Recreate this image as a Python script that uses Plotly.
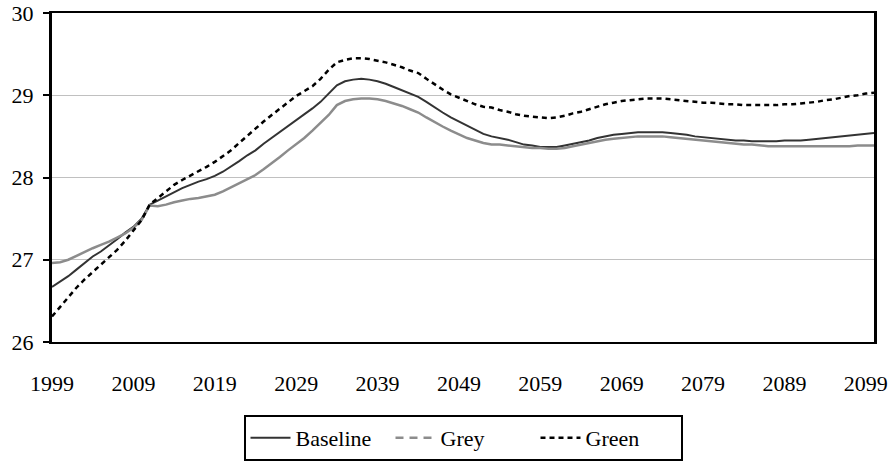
import plotly.graph_objects as go

years = list(range(1999, 2101))

baseline = [
    26.67, 26.73, 26.80, 26.88, 26.96, 27.04, 27.10, 27.17, 27.25, 27.33,  # 1999-2008
    27.40, 27.50, 27.67, 27.72, 27.77, 27.83, 27.87, 27.91, 27.95, 27.98,  # 2009-2018
    28.02, 28.07, 28.13, 28.20, 28.27, 28.33, 28.41, 28.48, 28.56, 28.63,  # 2019-2028
    28.70, 28.77, 28.84, 28.92, 29.02, 29.12, 29.17, 29.19, 29.20, 29.19,  # 2029-2038
    29.17, 29.14, 29.10, 29.06, 29.02, 28.98, 28.92, 28.85, 28.79, 28.73,  # 2039-2048
    28.68, 28.63, 28.58, 28.53, 28.50, 28.48, 28.46, 28.43, 28.40, 28.39,  # 2049-2058
    28.37, 28.37, 28.37, 28.39, 28.41, 28.43, 28.45, 28.48, 28.50, 28.52,  # 2059-2068
    28.53, 28.54, 28.55, 28.55, 28.55, 28.55, 28.54, 28.53, 28.52, 28.50,  # 2069-2078
    28.49, 28.48, 28.47, 28.46, 28.45, 28.45, 28.44, 28.44, 28.44, 28.44,  # 2079-2088
    28.45, 28.45, 28.45, 28.46, 28.47, 28.48, 28.49, 28.50, 28.51, 28.52,  # 2089-2098
    28.53, 28.54,                                                          # 2099-2100
]

grey = [
    26.96, 26.97, 27.00, 27.05, 27.10, 27.14, 27.18, 27.22, 27.27, 27.32,
    27.39, 27.48, 27.66, 27.65, 27.67, 27.70, 27.72, 27.74, 27.75, 27.77,
    27.79, 27.83, 27.88, 27.93, 27.98, 28.03, 28.10, 28.17, 28.25, 28.33,
    28.40, 28.48, 28.57, 28.66, 28.76, 28.88, 28.93, 28.95, 28.96, 28.96,
    28.95, 28.93, 28.90, 28.87, 28.83, 28.79, 28.73, 28.67, 28.62, 28.57,
    28.52, 28.48, 28.45, 28.42, 28.40, 28.40, 28.39, 28.38, 28.37, 28.36,
    28.36, 28.35, 28.35, 28.36, 28.38, 28.40, 28.42, 28.44, 28.46, 28.47,
    28.48, 28.49, 28.50, 28.50, 28.50, 28.50, 28.49, 28.48, 28.47, 28.46,
    28.45, 28.44, 28.43, 28.42, 28.41, 28.40, 28.40, 28.39, 28.38, 28.38,
    28.38, 28.38, 28.38, 28.38, 28.38, 28.38, 28.38, 28.38, 28.38, 28.39,
    28.39, 28.39,
]

green = [
    26.31, 26.43, 26.55, 26.66, 26.76, 26.85, 26.93, 27.02, 27.12, 27.23,
    27.35, 27.48, 27.67, 27.75, 27.83, 27.91, 27.97, 28.02, 28.08, 28.13,
    28.19, 28.26, 28.33, 28.42, 28.51, 28.60, 28.68, 28.76, 28.84, 28.92,
    28.99, 29.05, 29.11, 29.20, 29.31, 29.40, 29.43, 29.45, 29.45, 29.44,
    29.42, 29.40, 29.37, 29.34, 29.30, 29.27, 29.20, 29.13, 29.07, 29.01,
    28.97, 28.93, 28.89, 28.86, 28.85, 28.82, 28.80, 28.77, 28.75, 28.74,
    28.73, 28.72, 28.73, 28.75, 28.78, 28.80, 28.83, 28.86, 28.89, 28.91,
    28.93, 28.94, 28.95, 28.96, 28.96, 28.96, 28.95, 28.94, 28.93, 28.92,
    28.91, 28.91, 28.90, 28.89, 28.89, 28.88, 28.88, 28.88, 28.88, 28.88,
    28.89, 28.89, 28.90, 28.91, 28.92, 28.94, 28.95, 28.97, 28.99, 29.00,
    29.02, 29.03,
]

x_ticks = list(range(1999, 2100, 10))
y_ticks = [26, 27, 28, 29, 30]

FONT = "Liberation Serif"
FS = 22

fig = go.Figure()
fig.add_trace(go.Scatter(x=years, y=baseline, mode="lines", name="Baseline",
                         line=dict(color="#333333", width=2)))
fig.add_trace(go.Scatter(x=years, y=grey, mode="lines", name="Grey",
                         line=dict(color="#8c8c8c", width=2.5), showlegend=False))
fig.add_trace(go.Scatter(x=[None], y=[None], mode="lines", name="Grey",
                         line=dict(color="#8c8c8c", width=2.5, dash="8px,6px")))
fig.add_trace(go.Scatter(x=years, y=green, mode="lines", name="Green",
                         line=dict(color="#000000", width=2.5, dash="5px,4px")))

fig.update_layout(
    template="none",
    width=895, height=463,
    margin=dict(l=52, r=21, t=13, b=121, autoexpand=False),
    paper_bgcolor="white", plot_bgcolor="white",
    font=dict(family=FONT, size=FS, color="black"),
    showlegend=True,
    legend=dict(orientation="h", x=0.5, xanchor="center", y=-0.222, yanchor="top",
                bordercolor="black", borderwidth=2, font=dict(family=FONT, size=FS),
                itemwidth=40, entrywidth=90, tracegroupgap=0,
                bgcolor="white"),
)
fig.update_xaxes(range=[1999, 2100], tickvals=x_ticks, ticktext=[str(v) for v in x_ticks],
                 showgrid=False, zeroline=False, showline=True, linecolor="black",
                 linewidth=2, mirror=True, ticks="outside", ticklen=21, automargin=False,
                 tickcolor="rgba(0,0,0,0)", tickfont=dict(family=FONT, size=FS))
fig.update_yaxes(range=[26, 30], tickvals=y_ticks, showgrid=True, gridcolor="#c0c0c0",
                 gridwidth=1, zeroline=False, showline=True, linecolor="black",
                 linewidth=3, mirror=True, ticks="outside", ticklen=6, tickwidth=2,
                 automargin=False,
                 tickcolor="black", ticklabelstandoff=5, tickfont=dict(family=FONT, size=FS))

fig.write_html("out.html", config={"displayModeBar": False},
               post_script="document.body.style.margin='0';document.body.style.padding='0';"
                           "document.documentElement.style.overflow='hidden';")
